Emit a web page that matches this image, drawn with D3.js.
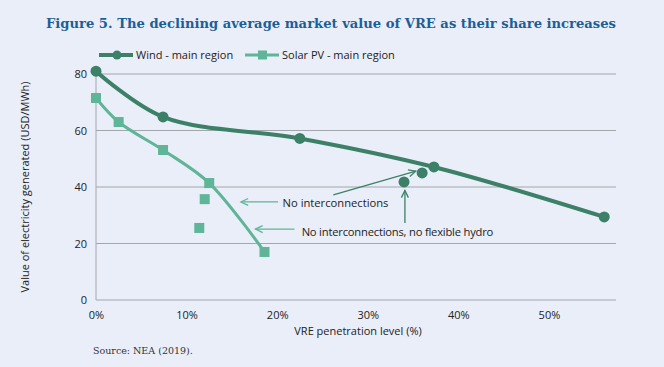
<!DOCTYPE html>
<html>
<head>
<meta charset="utf-8">
<script src="https://cdn.jsdelivr.net/npm/d3@7"></script>
<style>
  body { margin: 0; background: #eaeef8; }
  svg { display: block; }
</style>
</head>
<body>
<div id="chart"></div>
<script>
// Values (x = VRE share in %, y = USD/MWh)
const windShare = [0, 7.4, 22.5, 37.3, 56.1];
const windValue = [81, 64.8, 57.2, 47.1, 29.4];
const windExtraShare = [34.0, 36.0];
const windExtraValue = [41.8, 45.0];

const solarShare = [0, 2.5, 7.4, 12.5, 18.6];
const solarValue = [71.5, 63, 53.1, 41.4, 17];
const solarExtraShare = [11.4, 12.0];
const solarExtraValue = [25.5, 35.7];

const xTicks = [0, 10, 20, 30, 40, 50];
const yTicks = [0, 20, 40, 60, 80];
const seriesNames = ["Wind - main region", "Solar PV - main region"];

const width = 664;
const height = 367;
const windColor = "#3c8068";
const solarColor = "#5fb597";
const gridColor = "#a3a6ab";

const svg = d3.select("#chart")
    .append("svg")
    .attr("width", width)
    .attr("height", height)
    .style("background", "#eaeef8");

// scales
const x = d3.scaleLinear().domain([0, 57.4]).range([96, 616]);
const y = d3.scaleLinear().domain([0, 80]).range([300, 74]);

// title
svg.append("text")
    .attr("x", 46)
    .attr("y", 28)
    .attr("textLength", 570)
    .attr("lengthAdjust", "spacingAndGlyphs")
    .style("font-family", "DejaVu Serif")
    .style("font-weight", "bold")
    .style("font-size", "13.5px")
    .style("fill", "#1b5f98")
    .text("Figure 5. The declining average market value of VRE as their share increases");

// gridlines
svg.append("g")
    .selectAll("line")
    .data(yTicks)
    .enter()
    .append("line")
    .attr("x1", x(0))
    .attr("x2", x(57.4))
    .attr("y1", d => y(d))
    .attr("y2", d => y(d))
    .attr("stroke", gridColor)
    .attr("stroke-width", 1);

// y axis line
svg.append("line")
    .attr("x1", x(0)).attr("x2", x(0))
    .attr("y1", y(80)).attr("y2", y(0))
    .attr("stroke", gridColor);

// axes (labels only)
const yAxis = svg.append("g")
    .attr("transform", `translate(${x(0)},0)`)
    .call(d3.axisLeft(y).tickValues(yTicks).tickSize(0).tickPadding(9));
const xAxis = svg.append("g")
    .attr("transform", `translate(0,${y(0)})`)
    .call(d3.axisBottom(x).tickValues(xTicks).tickSize(0).tickPadding(11).tickFormat(d => d + "%"));
[yAxis, xAxis].forEach(a => {
    a.select(".domain").remove();
    a.selectAll("text")
        .style("font-family", "Open Sans")
        .style("font-size", "11px")
        .style("fill", "#222");
});

// axis titles
svg.append("text")
    .attr("x", 358)
    .attr("y", 335)
    .attr("text-anchor", "middle")
    .style("font-family", "Open Sans")
    .style("font-size", "11px")
    .style("fill", "#222")
    .text("VRE penetration level (%)");

svg.append("text")
    .attr("transform", `translate(29, ${(y(0) + y(80)) / 2}) rotate(-90)`)
    .attr("text-anchor", "middle")
    .style("font-family", "Open Sans")
    .style("font-size", "11px")
    .style("fill", "#222")
    .text("Value of electricity generated (USD/MWh)");

// lines
const line = d3.line()
    .x(d => x(d[0]))
    .y(d => y(d[1]))
    .curve(d3.curveCatmullRom.alpha(0.5));

const windPts = windShare.map((d, i) => [d, windValue[i]]);
const solarPts = solarShare.map((d, i) => [d, solarValue[i]]);

svg.append("path")
    .attr("d", line(solarPts))
    .attr("fill", "none")
    .attr("stroke", solarColor)
    .attr("stroke-width", 3);

svg.append("path")
    .attr("d", line(windPts))
    .attr("fill", "none")
    .attr("stroke", windColor)
    .attr("stroke-width", 4);

// markers
const sq = 10;
svg.selectAll(".solarPt")
    .data(solarPts.concat(solarExtraShare.map((d, i) => [d, solarExtraValue[i]])))
    .enter()
    .append("rect")
    .attr("class", "solarPt")
    .attr("x", d => x(d[0]) - sq / 2)
    .attr("y", d => y(d[1]) - sq / 2)
    .attr("width", sq)
    .attr("height", sq)
    .attr("fill", solarColor);

svg.selectAll(".windPt")
    .data(windPts.concat(windExtraShare.map((d, i) => [d, windExtraValue[i]])))
    .enter()
    .append("circle")
    .attr("class", "windPt")
    .attr("cx", d => x(d[0]))
    .attr("cy", d => y(d[1]))
    .attr("r", 5.5)
    .attr("fill", windColor);

// annotations (data units)
function arrow(x1, y1, x2, y2, color) {
    const px1 = x(x1), py1 = y(y1), px2 = x(x2), py2 = y(y2);
    const a = Math.atan2(py2 - py1, px2 - px1);
    const h = 8, w = 0.45;
    svg.append("line")
        .attr("x1", px1).attr("y1", py1)
        .attr("x2", px2).attr("y2", py2)
        .attr("stroke", color).attr("stroke-width", 1.3);
    svg.append("path")
        .attr("d", `M${px2 - h * Math.cos(a - w)},${py2 - h * Math.sin(a - w)} L${px2},${py2} L${px2 - h * Math.cos(a + w)},${py2 - h * Math.sin(a + w)}`)
        .attr("fill", "none")
        .attr("stroke", color)
        .attr("stroke-width", 1.3);
}

arrow(20.1, 34.7, 16.0, 34.7, solarColor);
arrow(21.9, 25.1, 17.6, 25.1, solarColor);
arrow(26.2, 37.2, 35.3, 45.6, windColor);
arrow(34.1, 27.3, 34.1, 38.8, windColor);

svg.append("text")
    .attr("x", x(20.6))
    .attr("y", y(34.3))
    .attr("dy", "0.35em")
    .style("font-family", "Open Sans")
    .style("font-size", "11.2px")
    .style("fill", "#222")
    .text("No interconnections");

svg.append("text")
    .attr("x", x(22.7))
    .attr("y", y(24.1))
    .attr("dy", "0.35em")
    .style("font-family", "Open Sans")
    .style("font-size", "11.2px")
    .style("letter-spacing", "-0.2px")
    .style("fill", "#222")
    .text("No interconnections, no flexible hydro");

// legend
const legend = svg.append("g").attr("transform", "translate(99,55)");
[windColor, solarColor].forEach((c, i) => {
    const g = legend.append("g").attr("transform", `translate(${i * 146},0)`);
    g.append("line")
        .attr("x1", 0).attr("x2", 34)
        .attr("stroke", c).attr("stroke-width", i === 0 ? 4 : 3);
    if (i === 0) {
        g.append("circle").attr("cx", 18).attr("r", 4.5).attr("fill", c);
    } else {
        g.append("rect").attr("x", 13).attr("y", -4.5).attr("width", 9).attr("height", 9).attr("fill", c);
    }
    g.append("text")
        .attr("x", 37)
        .attr("dy", "0.35em")
        .style("font-family", "Open Sans")
        .style("font-size", "11px")
        .style("fill", "#222")
        .text(seriesNames[i]);
});

// source
svg.append("text")
    .attr("x", 93)
    .attr("y", 354)
    .style("font-family", "DejaVu Serif")
    .style("font-size", "9.5px")
    .style("fill", "#333")
    .text("Source: NEA (2019).");
</script>
</body>
</html>
